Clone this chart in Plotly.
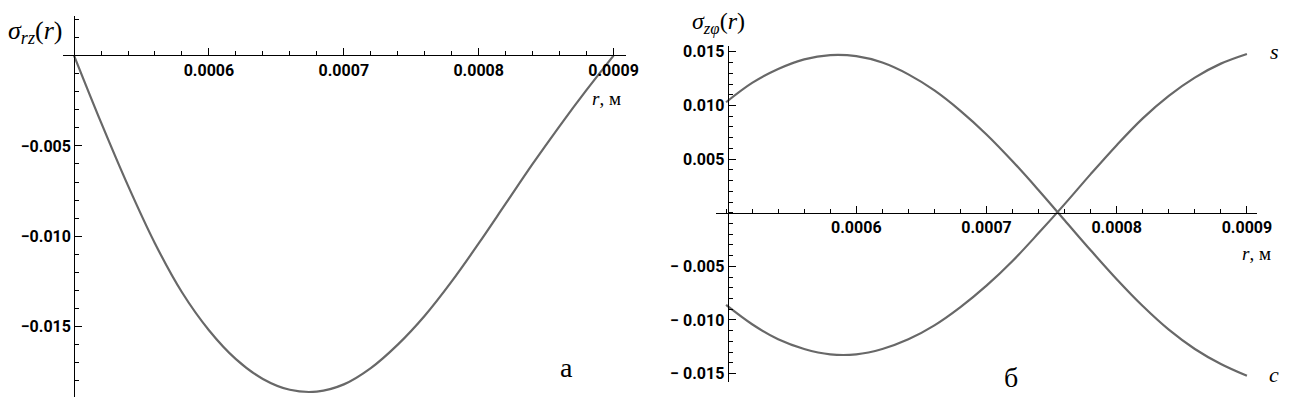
import plotly.graph_objects as go

# radius, m
r = [0.00050, 0.00052, 0.00054, 0.00056, 0.00058, 0.00060, 0.00062,
     0.00064, 0.00066, 0.00068, 0.00070, 0.00072, 0.00074, 0.00076,
     0.00078, 0.00080, 0.00082, 0.00084, 0.00086, 0.00088, 0.00090]

# panel a: sigma_rz(r)
sigma_rz = [0.0, -0.0037, -0.0072, -0.0104, -0.0131, -0.0152, -0.0168,
            -0.0179, -0.0185, -0.0186, -0.0182, -0.0173, -0.0160, -0.0144,
            -0.0125, -0.0104, -0.0082, -0.0060, -0.0039, -0.0019, 0.0]

# panel б: sigma_zphi(r), cos and sin parts
sigma_c = [0.0103, 0.0121, 0.0134, 0.0143, 0.0147, 0.0146, 0.0140,
           0.0129, 0.0114, 0.0095, 0.0073, 0.0048, 0.0021, -0.0007,
           -0.0035, -0.0062, -0.0087, -0.0109, -0.0127, -0.0141, -0.0152]
sigma_s = [-0.0086, -0.0104, -0.0118, -0.0127, -0.0132, -0.0132, -0.0127,
           -0.0118, -0.0105, -0.0088, -0.0068, -0.0045, -0.0019, 0.0008,
           0.0036, 0.0063, 0.0088, 0.0109, 0.0126, 0.0139, 0.0148]

x_ticks = [0.0006, 0.0007, 0.0008, 0.0009]
x_ticktext = ["0.0006", "0.0007", "0.0008", "0.0009"]
y1_ticks = [-0.005, -0.010, -0.015]
y1_ticktext = ["\u22120.005", "\u22120.010", "\u22120.015"]
y2_ticks = [0.015, 0.010, 0.005, -0.005, -0.010, -0.015]
y2_ticktext = ["0.015", "0.010", "0.005",
               "\u2212 0.005", "\u2212 0.010", "\u2212 0.015"]

W, H = 1301, 400
LINE = "#686868"
TICKFONT = dict(family="Liberation Sans Narrow, Roboto", size=16,
                weight="bold", color="black")
SERIF = "Liberation Serif, Times New Roman, serif"


def px_x(p):
    return p / W


def px_y(p):
    return 1 - p / H


fig = go.Figure()
fig.add_trace(go.Scatter(x=r, y=sigma_rz, mode="lines", line_shape="spline",
                         line=dict(color=LINE, width=2.2), xaxis="x", yaxis="y"))
fig.add_trace(go.Scatter(x=r, y=sigma_c, mode="lines", line_shape="spline",
                         line=dict(color=LINE, width=2.2), xaxis="x2", yaxis="y2"))
fig.add_trace(go.Scatter(x=r, y=sigma_s, mode="lines", line_shape="spline",
                         line=dict(color=LINE, width=2.2), xaxis="x2", yaxis="y2"))

common_x = dict(
    showgrid=False, zeroline=False, showline=True, linecolor="black",
    linewidth=1, ticks="inside", ticklen=7, tickcolor="black",
    tickmode="array", tickvals=x_ticks, ticktext=x_ticktext,
    tickfont=TICKFONT, anchor="free",
    minor=dict(ticks="inside", ticklen=4, tick0=0.0005, dtick=0.00002,
               tickcolor="black", showgrid=False),
)
common_y = dict(
    showgrid=False, zeroline=False, showline=True, linecolor="black",
    linewidth=1, ticks="inside", ticklen=7, tickcolor="black",
    tickmode="array", tickfont=TICKFONT, anchor="free",
    minor=dict(ticks="inside", ticklen=4, tick0=0, dtick=0.001,
               tickcolor="black", showgrid=False),
)

fig.update_layout(
    width=W, height=H,
    margin=dict(l=0, r=0, t=0, b=0),
    paper_bgcolor="white", plot_bgcolor="white",
    showlegend=False,
    xaxis=dict(common_x, domain=[px_x(64), px_x(633)],
               range=[0.000492, 0.000909], position=px_y(52)),
    yaxis=dict(common_y, domain=[px_y(398), px_y(12)],
               range=[-0.0189, 0.0022], position=px_x(75),
               tickvals=y1_ticks, ticktext=y1_ticktext),
    xaxis2=dict(common_x, domain=[px_x(724), px_x(1272)],
                range=[0.000492, 0.000908], position=px_y(211.5)),
    yaxis2=dict(common_y, domain=[px_y(383), px_y(43)],
                range=[-0.0158, 0.0155], position=px_x(736),
                tickvals=y2_ticks, ticktext=y2_ticktext),
)

labels = [
    (35, 28, "<i>σ</i><sub><i>rz</i></sub>(<i>r</i>)", 26),
    (727, 19, "<i>σ</i><sub><i>zφ</i></sub>(<i>r</i>)", 24),
    (614, 96, "<i>r</i>, м", 19),
    (1271, 253, "<i>r</i>, м", 19),
    (573, 368, "а", 28),
    (1023, 378, "б", 28),
    (1289, 48, "<i>s</i>", 22),
    (1289, 375, "<i>c</i>", 22),
]
for x, y, text, size in labels:
    fig.add_annotation(x=px_x(x), y=px_y(y), xref="paper", yref="paper",
                       xanchor="center", yanchor="middle",
                       text=text, showarrow=False,
                       font=dict(family=SERIF, size=size, color="black"))

fig.write_html("out.html", config={"displayModeBar": False},
               post_script="document.body.style.margin='0';"
                           "document.body.style.overflow='hidden';")
